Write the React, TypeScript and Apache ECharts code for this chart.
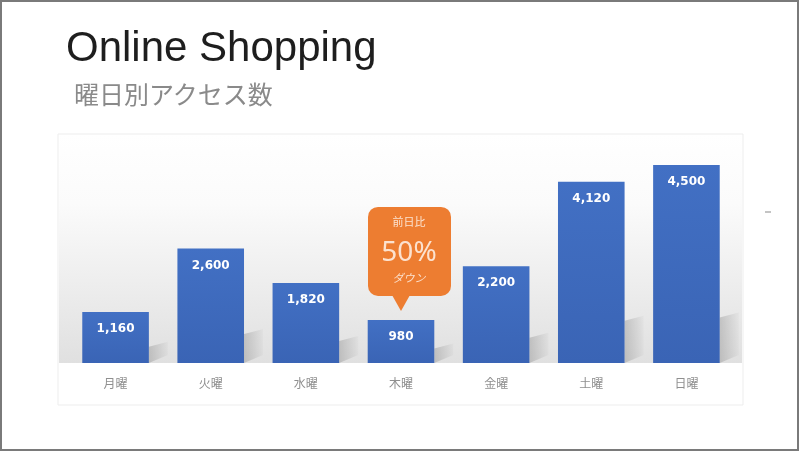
import React, { useEffect, useRef } from 'react';
import * as echarts from 'echarts';

// chart data
const days = ['月曜', '火曜', '水曜', '木曜', '金曜', '土曜', '日曜'];
const visits = [1160, 2600, 1820, 980, 2200, 4120, 4500];
const calloutDay = '木曜';
const calloutLines = ['前日比', '50%', 'ダウン'];
const titleText = 'Online Shopping';
const subtitleText = '曜日別アクセス数';
const yMax = 4500;

const App: React.FC = () => {
  const chartRef = useRef<HTMLDivElement>(null);

  useEffect(() => {
    const chart = echarts.init(chartRef.current!, null, { renderer: 'svg' });

    const options = {
      animation: false,
      grid: { left: 68, right: 66, top: 165, bottom: 89 },
      xAxis: {
        type: 'category',
        data: days,
        axisLine: { show: false },
        axisTick: { show: false },
        axisLabel: {
          color: '#8f8f8f',
          fontSize: 12,
          margin: 13,
          fontFamily: '"Noto Sans CJK JP", sans-serif',
        },
      },
      yAxis: { type: 'value', min: 0, max: yMax, show: false },
      series: [
        {
          // bars
          type: 'bar',
          z: 2,
          barWidth: '70%',
          data: visits,
          itemStyle: {
            color: new echarts.graphic.LinearGradient(0, 0, 0, 1, [
              { offset: 0, color: '#4270c4' },
              { offset: 1, color: '#3a64b5' },
            ]),
          },
          label: {
            show: true,
            position: 'insideTop',
            distance: 10,
            color: '#ffffff',
            fontWeight: 'bold',
            fontSize: 12,
            fontFamily: '"DejaVu Sans", sans-serif',
            formatter: (p: any) => p.value.toLocaleString('en-US'),
          },
        },
        {
          // floor shadows behind the bars
          type: 'custom',
          z: 1,
          silent: true,
          data: visits.map((v, i) => [i, v]),
          renderItem: (params: any, api: any) => {
            const idx = api.value(0);
            const top = api.coord([idx, api.value(1)]);
            const base = api.coord([idx, 0]);
            const band = api.size([1, 0])[0];
            const right = base[0] + band * 0.35;
            const h = (base[1] - top[1]) * 0.2 + 6;
            const w = band * 0.2;
            return {
              type: 'polygon',
              shape: {
                points: [
                  [right, base[1]],
                  [right, base[1] - h],
                  [right + w, base[1] - h - 5],
                  [right + w, base[1] - 8],
                ],
              },
              style: {
                fill: new echarts.graphic.LinearGradient(0, 0, 1, 0, [
                  { offset: 0, color: 'rgba(0,0,0,0.16)' },
                  { offset: 1, color: 'rgba(0,0,0,0.02)' },
                ]),
              },
            };
          },
        },
      ],
    };

    chart.setOption(options);

    const ci = days.indexOf(calloutDay);
    const [px, py] = chart.convertToPixel({ seriesIndex: 0 }, [ci, visits[ci]]) as number[];
    const orange = '#ed7d31';
    const light = '#fce2cf';

    chart.setOption({
      graphic: [
        // outer frame
        {
          type: 'rect',
          z: -10,
          shape: { x: 1, y: 1, width: 797, height: 449 },
          style: { fill: '#ffffff', stroke: '#7a7a7a', lineWidth: 2 },
        },
        // chart box
        {
          type: 'rect',
          z: -9,
          shape: { x: 58, y: 134, width: 685, height: 271 },
          style: {
            fill: '#ffffff',
            stroke: '#ededed',
            lineWidth: 1,
          },
        },
        {
          type: 'rect',
          z: -8,
          shape: { x: 59, y: 135, width: 683, height: 228 },
          style: {
            fill: new echarts.graphic.LinearGradient(0, 0, 0, 1, [
              { offset: 0, color: '#ffffff' },
              { offset: 0.3, color: '#fbfbfb' },
              { offset: 1, color: '#e0e0e0' },
            ]),
          },
        },
        // title and subtitle
        {
          type: 'text',
          left: 66,
          top: 25,
          style: {
            text: titleText,
            fontSize: 42,
            fill: '#1e1e1e',
            fontFamily: '"Liberation Sans", Arial, sans-serif',
          },
        },
        {
          type: 'text',
          left: 74,
          top: 80,
          style: {
            text: subtitleText,
            fontSize: 25,
            fill: '#8a8a8a',
            fontFamily: '"Noto Sans CJK JP", sans-serif',
          },
        },
        // small dash at right
        {
          type: 'rect',
          shape: { x: 765, y: 211, width: 6, height: 2 },
          style: { fill: '#c4c4c4' },
        },
        // callout above the thursday bar
        {
          type: 'group',
          x: px,
          y: py,
          z: 100,
          children: [
            {
              type: 'rect',
              shape: { x: -33, y: -113, width: 83, height: 89, r: 10 },
              style: { fill: orange },
            },
            {
              type: 'polygon',
              shape: { points: [[-9, -25], [9, -25], [0, -9]] },
              style: { fill: orange },
            },
            {
              type: 'text',
              x: 8,
              y: -99,
              style: {
                text: calloutLines[0],
                fill: light,
                fontSize: 11,
                align: 'center',
                verticalAlign: 'middle',
                fontFamily: '"Noto Sans CJK JP", sans-serif',
              },
            },
            {
              type: 'text',
              x: 8,
              y: -70,
              style: {
                text: calloutLines[1],
                fill: light,
                fontSize: 28,
                align: 'center',
                verticalAlign: 'middle',
                fontFamily: '"Noto Sans", sans-serif',
              },
            },
            {
              type: 'text',
              x: 8,
              y: -43,
              style: {
                text: calloutLines[2],
                fill: light,
                fontSize: 11,
                fontStyle: 'italic',
                align: 'center',
                verticalAlign: 'middle',
                fontFamily: '"Noto Sans CJK JP", sans-serif',
              },
            },
          ],
        },
      ],
    });

    return () => {
      chart.dispose();
    };
  }, []);

  return (
    <div
      ref={chartRef}
      style={{ position: 'fixed', left: 0, top: 0, width: 800, height: 452 }}
    />
  );
};

export default App;
